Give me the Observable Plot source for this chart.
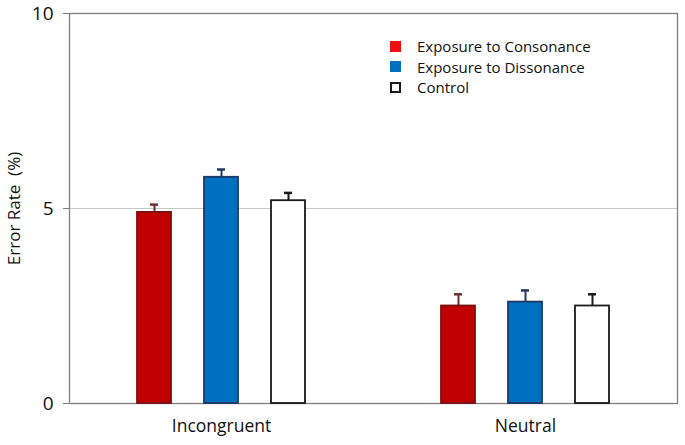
<!DOCTYPE html>
<html>
<head>
<meta charset="utf-8">
<script src="https://cdn.jsdelivr.net/npm/d3@7"></script>
<script src="https://cdn.jsdelivr.net/npm/@observablehq/plot@0.6"></script>
<style>
  html, body { margin: 0; padding: 0; background: #fff; }
  #wrap { position: relative; width: 685px; height: 445px; font-family: "Open Sans", "Noto Sans", sans-serif; }
  #legend { position: absolute; left: 390px; top: 36px; font-size: 15px; color: #111; }
  .row { display: flex; align-items: center; height: 20.5px; }
  .sw { width: 11px; height: 11px; box-sizing: border-box; margin-right: 16px; }
</style>
</head>
<body>
<div id="wrap"></div>
<script>
// ---- data ----
const groups = ["Incongruent", "Neutral"];
const conditions = ["Exposure to Consonance", "Exposure to Dissonance", "Control"];
const incongruentValues = [4.9, 5.8, 5.2];
const incongruentErrors = [0.2, 0.2, 0.2];
const neutralValues = [2.5, 2.6, 2.5];
const neutralErrors = [0.3, 0.3, 0.3];
const yTicks = [0, 5, 10];

// ---- styles ----
const barFill = ["#c00000", "#0070c0", "#ffffff"];
const barStroke = ["#7a1010", "#1f3864", "#1a1a1a"];
const errColor = ["#6b2e2e", "#1f3864", "#1a1a1a"];
const legendFill = ["#ee1111", "#0070c0", "#ffffff"];

const table = [];
groups.forEach((g, gi) => {
  const vals = gi === 0 ? incongruentValues : neutralValues;
  const errs = gi === 0 ? incongruentErrors : neutralErrors;
  conditions.forEach((c, ci) => {
    table.push({group: g, condition: c, value: vals[ci], err: errs[ci], top: vals[ci] + errs[ci]});
  });
});

const fillScale = d3.scaleOrdinal(conditions, barFill);
const strokeScale = d3.scaleOrdinal(conditions, barStroke);
const errScale = d3.scaleOrdinal(conditions, errColor);

const chart = Plot.plot({
  width: 685,
  height: 445,
  marginLeft: 69,
  marginRight: 8,
  marginTop: 13,
  marginBottom: 42,
  style: {fontFamily: "'Open Sans', 'Noto Sans', sans-serif", background: "#fff", color: "#111"},
  fx: {domain: groups, padding: 0, label: null},
  x: {domain: conditions, paddingInner: 0.496, paddingOuter: 1.0, axis: null},
  y: {domain: [0, 10], axis: null},
  marks: [
    Plot.gridY([5], {stroke: "#c8c8c8", strokeOpacity: 1, strokeWidth: 1}),
    Plot.frame({facet: "super", stroke: "#7f7f7f", strokeWidth: 1.3}),
    Plot.axisY({
      ticks: yTicks, tickSize: 6, tickPadding: 10, fontSize: 19, stroke: "#7f7f7f",
      label: null
    }),
    Plot.axisY({
      ticks: [], tickSize: 0, fontSize: 17,
      label: "Error Rate\u00a0 (%)", labelAnchor: "center", labelOffset: 62, labelArrow: "none"
    }),
    Plot.axisFx({anchor: "bottom", tickSize: 0, tickPadding: 16, fontSize: 17.5, label: null}),
    Plot.ruleX(table, {fx: "group", x: "condition", y1: "value", y2: "top",
      stroke: d => errScale(d.condition), strokeWidth: 2}),
    Plot.tickY(table, {fx: "group", x: "condition", y: "top", insetLeft: 13, insetRight: 13,
      stroke: d => errScale(d.condition), strokeWidth: 2.5}),
    Plot.barY(table, {fx: "group", x: "condition", y: "value",
      fill: d => fillScale(d.condition), stroke: d => strokeScale(d.condition), strokeWidth: 1.8})
  ]
});

const wrap = document.getElementById("wrap");
wrap.appendChild(chart);

// legend
const legend = document.createElement("div");
legend.id = "legend";
conditions.forEach((c, i) => {
  const row = document.createElement("div");
  row.className = "row";
  const sw = document.createElement("div");
  sw.className = "sw";
  sw.style.background = legendFill[i];
  if (i === 2) sw.style.border = "2px solid #1a1a1a";
  const t = document.createElement("span");
  t.textContent = c;
  row.appendChild(sw);
  row.appendChild(t);
  legend.appendChild(row);
});
wrap.appendChild(legend);
</script>
</body>
</html>
